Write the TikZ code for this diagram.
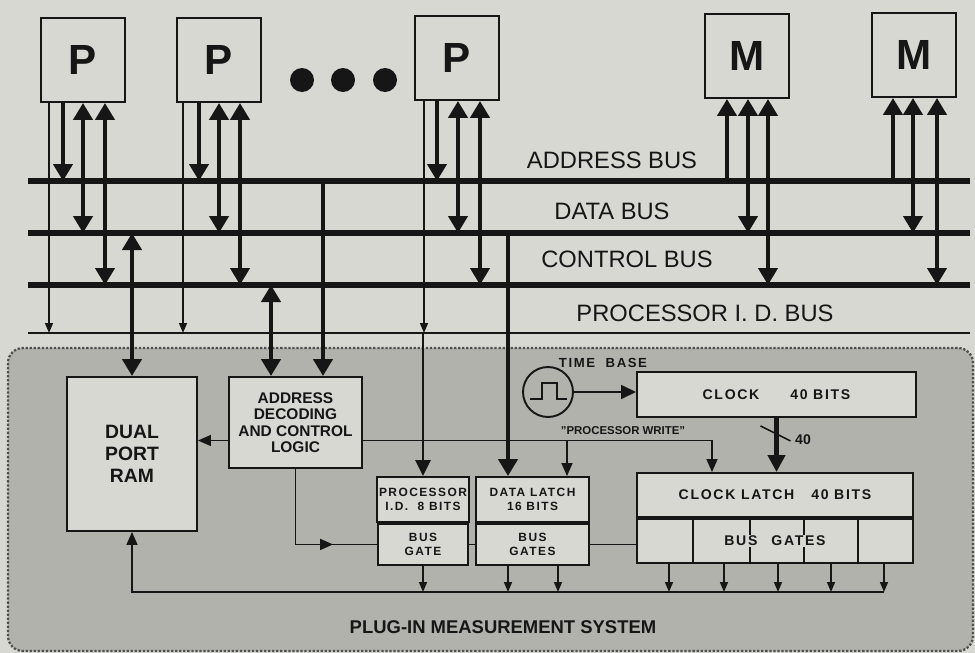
\documentclass[tikz,border=0pt]{standalone}
\usepackage{fontspec}
\setmainfont{Liberation Sans}
\newfontfamily\gatefont[LetterSpace=12]{Liberation Sans}
\usetikzlibrary{arrows.meta,positioning,decorations.markings,calc}
\definecolor{paper}{RGB}{216,216,211}
\definecolor{screen}{RGB}{178,178,172}
\definecolor{ink}{RGB}{22,22,22}

\begin{document}
\begin{tikzpicture}[x=0.2mm, y=-0.2mm, color=ink,
  unit/.style={draw, line width=1.1pt, fill=paper, minimum width=16.8mm,
               minimum height=16.8mm, font=\bfseries\fontsize{24}{24}\selectfont},
  bigdot/.style={circle, fill, minimum size=4.8mm, inner sep=0pt},
  buslbl/.style={font=\fontsize{13.5}{14}\selectfont},
  bus/.style={line width=3.4pt},
  idbus/.style={line width=1.1pt},
  wide/.style={line width=2.7pt, -{Triangle[length=3.4mm,width=3.8mm]}},
  wideboth/.style={line width=2.7pt,
                   {Triangle[length=3.4mm,width=3.8mm]}-{Triangle[length=3.4mm,width=3.8mm]}},
  fine/.style={line width=0.9pt, -{Triangle[length=2mm,width=1.6mm]}},
  wire/.style={line width=0.9pt},
  wirearr/.style={line width=0.9pt, -{Triangle[length=2.6mm,width=2.2mm]}},
  block/.style={draw, line width=1.1pt, fill=paper, align=center, inner sep=1pt},
  small/.style={font=\bfseries\gatefont\fontsize{6.8}{8}\selectfont},
  medium/.style={font=\bfseries\gatefont\fontsize{8}{9}\selectfont},
]
\useasboundingbox (0,0) rectangle (975,653);
\fill[paper] (0,0) rectangle (975,653);

% plug-in system
\filldraw[fill=screen, draw=ink!75, densely dotted, line width=1.3pt,
  rounded corners=3mm] (8,348) rectangle (973,651);
\node[font=\bfseries\fontsize{10.5}{11}\selectfont] (sys) at (503,627)
  {PLUG-IN MEASUREMENT SYSTEM};

% processors and memories
\node[unit] (p1) at (83,60) {P};
\node[unit] (p2) at (219,60) {P};
\node[bigdot] (d1) at (302,80) {};
\node[bigdot] (d2) at (343,80) {};
\node[bigdot] (d3) at (385,80) {};
\node[unit] (p3) at (457,58) {P};
\node[unit] (m1) at (747,56) {M};
\node[unit] (m2) at (914,55) {M};

% buses
\coordinate (ab-w) at (28,181); \coordinate (ab-e) at (970,181);
\coordinate (db-w) at (28,233); \coordinate (db-e) at (970,233);
\coordinate (cb-w) at (28,285); \coordinate (cb-e) at (970,285);
\coordinate (ib-w) at (28,333); \coordinate (ib-e) at (970,333);
\draw[bus] (ab-w) -- (ab-e);
\draw[bus] (db-w) -- (db-e);
\draw[bus] (cb-w) -- (cb-e);
\draw[idbus] (ib-w) -- (ib-e);
\node[buslbl] (ab-l) at (612,160) {ADDRESS BUS};
\node[buslbl] (db-l) at (612,211) {DATA BUS};
\node[buslbl] (cb-l) at (627,259) {CONTROL BUS};
\node[buslbl] (ib-l) at (705,313) {PROCESSOR I. D. BUS};

% processor taps
\draw[fine] (49,0 |- p1.south) -- (49,0 |- ib-w);
\draw[wide] (63,0 |- p1.south) -- (63,0 |- ab-w);
\draw[wideboth] (83,0 |- p1.south) -- (83,0 |- db-w);
\draw[wideboth] (105,0 |- p1.south) -- (105,0 |- cb-w);
\draw[fine] (183,0 |- p2.south) -- (183,0 |- ib-w);
\draw[wide] (199,0 |- p2.south) -- (199,0 |- ab-w);
\draw[wideboth] (219,0 |- p2.south) -- (219,0 |- db-w);
\draw[wideboth] (240,0 |- p2.south) -- (240,0 |- cb-w);
\draw[fine] (424,0 |- p3.south) -- (424,0 |- ib-w);
\draw[wide] (437,0 |- p3.south) -- (437,0 |- ab-w);
\draw[wideboth] (458,0 |- p3.south) -- (458,0 |- db-w);
\draw[wideboth] (480,0 |- p3.south) -- (480,0 |- cb-w);

% memory taps
\draw[wide] (727,0 |- ab-w) -- (727,0 |- m1.south);
\draw[wideboth] (748,0 |- m1.south) -- (748,0 |- db-w);
\draw[wideboth] (768,0 |- m1.south) -- (768,0 |- cb-w);
\draw[wide] (893,0 |- ab-w) -- (893,0 |- m2.south);
\draw[wideboth] (913,0 |- m2.south) -- (913,0 |- db-w);
\draw[wideboth] (937,0 |- m2.south) -- (937,0 |- cb-w);

% measurement blocks
\node[block, minimum width=26mm, minimum height=30.8mm,
      font=\bfseries\fontsize{11}{12.5}\selectfont] (ram) at (132,454) {DUAL\\PORT\\RAM};
\node[block, minimum width=26.6mm, minimum height=18.2mm,
      font=\bfseries\fontsize{8.8}{9.4}\selectfont] (addr) at (295.5,422.5)
      {ADDRESS\\DECODING\\AND CONTROL\\LOGIC};
\node[block, small, minimum width=18mm, minimum height=9mm] (pid) at (423,499.5)
      {PROCESSOR\\I.D.\ \ 8 BITS};
\node[block, small, minimum width=18mm, minimum height=8.2mm, below=0pt of pid] (pidg)
      {BUS\\GATE};
\node[block, small, minimum width=22.6mm, minimum height=9mm] (dl) at (532.5,499.5)
      {DATA LATCH\\16 BITS};
\node[block, small, minimum width=22.6mm, minimum height=8.2mm, below=0pt of dl] (dlg)
      {BUS\\GATES};
\node[block, medium, minimum width=55.8mm, minimum height=9mm]
      (clk) at (776.5,394.5) {CLOCK\hspace{2.2em}40 BITS};
\node[block, medium, minimum width=55.2mm, minimum height=8.8mm]
      (cl) at (775,495) {CLOCK LATCH\hspace{1.2em}40 BITS};
\node[block, minimum width=55.2mm, minimum height=8.8mm, below=0pt of cl] (clg) {};
\draw[wire, line width=1.1pt] (693,0 |- clg.north) -- (693,0 |- clg.south);
\draw[wire, line width=1.1pt] (750,0 |- clg.north) -- (750,0 |- clg.south);
\draw[wire, line width=1.1pt] (804,0 |- clg.north) -- (804,0 |- clg.south);
\draw[wire, line width=1.1pt] (858,0 |- clg.north) -- (858,0 |- clg.south);
\node[medium, fill=paper, inner sep=0.6pt] (clg-t) at (clg) {BUS\hspace{1em}GATES};

% time base
\node[draw, circle, line width=1.1pt, minimum size=10mm, inner sep=0pt] (tb) at (548,392) {};
\draw[wire, line width=1.1pt] ($(tb)+(-18,7)$) -- ++(12,0) -- ++(0,-16) -- ++(15,0)
  -- ++(0,16) -- ++(10,0);
\node[small, font=\bfseries\gatefont\fontsize{7.5}{8}\selectfont] (tb-l) at (603,363) {TIME\ \ BASE};
\draw[wirearr, -{Triangle[length=3mm,width=2.8mm]}] (tb.east) -- (tb.east -| clk.west);

% clock to latch
\draw[line width=2.4pt, -{Triangle[length=3.4mm,width=3.4mm]}] (clk.south) -- (clk.south |- cl.north);
\draw[wire] ($(clk.south)+(-16,8)$) -- ($(clk.south)+(14,23)$);
\node[font=\bfseries\fontsize{8}{8}\selectfont] (w40) at (803,440) {40};

% bus drops into the system
\draw[wideboth] (ram.north |- db-w) -- (ram.north);
\draw[wideboth] (271,0 |- cb-w) -- (271,0 |- addr.north);
\draw[wide] (323,0 |- ab-w) -- (323,0 |- addr.north);
\draw[line width=1.5pt, -{Triangle[length=3.2mm,width=3mm]}] (pid.north |- ib-w) -- (pid.north);
\draw[wide] (508,0 |- db-w) -- (508,0 |- dl.north);

% control lines
\coordinate (pw) at ([yshift=-3.6mm]addr.east);
\coordinate (aw) at ([yshift=-3.6mm]addr.west);
\draw[wirearr] (aw) -- (aw -| ram.east);
\draw[wirearr] (pw) -| (712,0 |- cl.north);
\draw[wirearr] (567,0 |- pw) -- (567,0 |- dl.north);
\node[font=\bfseries\fontsize{6.5}{7}\selectfont] (pw-l) at (623,431) {"PROCESSOR WRITE"};
\draw[wire, postaction={decorate}, decoration={markings,
  mark=at position 0.72 with {\arrow{Triangle[length=2.6mm,width=2.2mm]}}}]
  (addr.south) |- (pidg.west);
\draw[wire] (pidg.east) -- (dlg.west);
\draw[wire] (dlg.east) -- (dlg.east -| clg.west);

% return bus to the RAM
\coordinate (rb-e) at (884,592);
\draw[wirearr] (rb-e) -| (ram.south);
\draw[fine] (pidg.south) -- (pidg.south |- rb-e);
\draw[fine] (508,0 |- dlg.south) -- (508,0 |- rb-e);
\draw[fine] (558,0 |- dlg.south) -- (558,0 |- rb-e);
\draw[fine] (669,0 |- clg.south) -- (669,0 |- rb-e);
\draw[fine] (724,0 |- clg.south) -- (724,0 |- rb-e);
\draw[fine] (778,0 |- clg.south) -- (778,0 |- rb-e);
\draw[fine] (831,0 |- clg.south) -- (831,0 |- rb-e);
\draw[fine] (884,0 |- clg.south) -- (884,0 |- rb-e);
\end{tikzpicture}
\end{document}
